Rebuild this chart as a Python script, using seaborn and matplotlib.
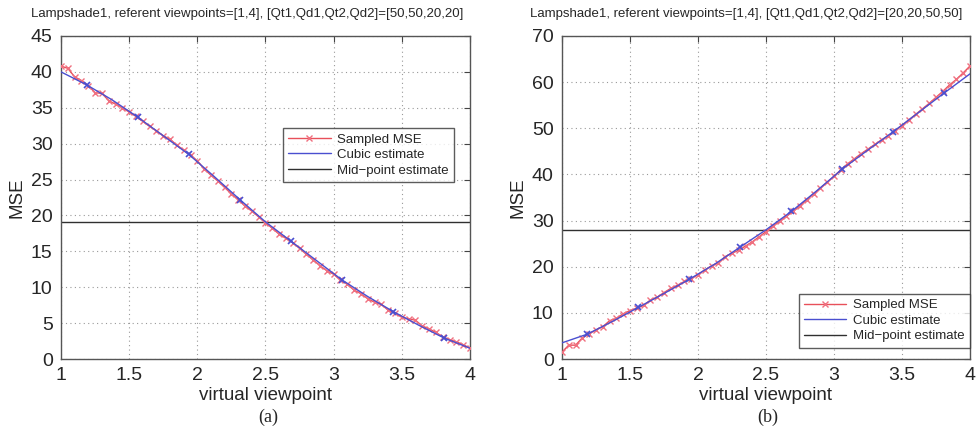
import numpy as np
import pandas as pd
import matplotlib
matplotlib.use("Agg")
import matplotlib.pyplot as plt
import seaborn as sns

# ---------------- data ----------------
sample_x = [round(1.0 + 0.05 * i, 2) for i in range(61)]
sampled_a = [40.8, 40.5, 39.3, 38.8, 38.1, 37.1, 37.0, 36.0, 35.5, 35.0,
             34.4, 33.8, 33.1, 32.4, 31.8, 31.1, 30.6, 29.8, 29.1, 28.4,
             27.6, 26.5, 25.6, 24.8, 23.9, 23.0, 22.2, 21.3, 20.6, 19.8,
             19.0, 18.2, 17.4, 16.8, 16.2, 15.4, 14.6, 13.8, 13.0, 12.3,
             11.8, 11.0, 10.4, 9.6, 9.1, 8.4, 7.9, 7.6, 6.8, 6.4,
             5.8, 5.6, 5.4, 4.6, 4.2, 3.7, 3.1, 2.7, 2.4, 2.0, 1.5]
sampled_b = [1.5, 3.0, 3.0, 4.6, 5.5, 6.3, 7.0, 8.3, 8.8, 9.8,
             10.5, 11.0, 11.6, 12.8, 13.4, 14.4, 15.3, 16.0, 16.8, 17.4,
             18.3, 19.3, 20.2, 20.8, 22.2, 22.9, 23.6, 24.5, 25.4, 26.5,
             27.6, 28.8, 29.8, 30.9, 32.0, 33.2, 34.5, 35.8, 37.0, 38.3,
             39.6, 41.0, 42.3, 43.4, 44.5, 45.5, 46.5, 47.5, 48.4, 49.5,
             50.6, 51.8, 53.0, 54.2, 55.4, 56.7, 58.0, 59.4, 60.6, 62.0, 63.5]

cubic_x = [1.0, 1.1875, 1.375, 1.5625, 1.75, 1.9375, 2.125, 2.3125, 2.5,
           2.6875, 2.875, 3.0625, 3.25, 3.4375, 3.625, 3.8125, 4.0]
cubic_a = [40.0, 38.2, 36.1, 33.7, 31.1, 28.5, 25.4, 22.2, 19.1,
           16.4, 13.7, 11.0, 8.7, 6.6, 4.7, 2.9, 1.5]
cubic_b = [3.5, 5.4, 8.2, 11.2, 14.2, 17.3, 20.6, 24.3, 28.0,
           32.0, 36.5, 41.2, 45.3, 49.3, 53.5, 57.7, 61.8]

mid_a = 19.1
mid_b = 28.0

titles = ["Lampshade1, referent viewpoints=[1,4], [Qt1,Qd1,Qt2,Qd2]=[50,50,20,20]",
          "Lampshade1, referent viewpoints=[1,4], [Qt1,Qd1,Qt2,Qd2]=[20,20,50,50]"]
captions = ["(a)", "(b)"]
xticks = [1, 1.5, 2, 2.5, 3, 3.5, 4]
xticklabels = ["1", "1.5", "2", "2.5", "3", "3.5", "4"]
yticks_a = [0, 5, 10, 15, 20, 25, 30, 35, 40, 45]
yticks_b = [0, 10, 20, 30, 40, 50, 60, 70]
legend_labels = ["Sampled MSE", "Cubic estimate", "Mid\u2212point estimate"]

# ---------------- style ----------------
sns.set_theme(style="white")
plt.rcParams['font.family'] = ['Liberation Sans', 'DejaVu Sans']

fig = plt.figure(figsize=(9.79, 4.40), dpi=100)
ax_a = fig.add_axes([61/979, 1-359/440, 409/979, 323/440])
ax_b = fig.add_axes([562/979, 1-359/440, 408/979, 323/440])

RED = "#e8505a"
BLUE = "#4a4fd0"
BLACK = "#303030"

panels = [
    (ax_a, sampled_a, cubic_a, mid_a, yticks_a, (0, 45), titles[0], captions[0],
     dict(loc="upper left", bbox_to_anchor=(0.543, 0.715))),
    (ax_b, sampled_b, cubic_b, mid_b, yticks_b, (0, 70), titles[1], captions[1],
     dict(loc="lower right", bbox_to_anchor=(1.0, 0.035))),
]

for ax, samp, cub, mid, yt, ylim, title, cap, legkw in panels:
    sns.lineplot(x=sample_x, y=samp, ax=ax, color=RED, linewidth=1.0,
                 marker="x", markersize=5, markeredgewidth=1.0,
                 markeredgecolor="#f07080", label=legend_labels[0], zorder=3)
    sns.lineplot(x=cubic_x, y=cub, ax=ax, color=BLUE, linewidth=1.0,
                 label=legend_labels[1], zorder=4)
    sns.lineplot(x=cubic_x[1::2], y=cub[1::2], ax=ax, color=BLUE, linewidth=0,
                 marker="x", markersize=5, markeredgewidth=1.2,
                 markeredgecolor=BLUE, zorder=5, legend=False)
    sns.lineplot(x=[1, 4], y=[mid, mid], ax=ax, color=BLACK, linewidth=1.0,
                 label=legend_labels[2], zorder=2)

    ax.set_xlim(1, 4)
    ax.set_ylim(*ylim)
    ax.set_xticks(xticks)
    ax.set_xticklabels(xticklabels)
    ax.set_yticks(yt)
    ax.tick_params(axis="both", labelsize=14, direction="in", length=4,
                   width=0.8, color="#444444", top=True, right=True, pad=6)
    ax.grid(True, linestyle=(0, (1, 3)), color="#999999", linewidth=0.8)
    for s in ax.spines.values():
        s.set_color("#555555")
        s.set_linewidth(1.0)
    ax.set_xlabel("virtual viewpoint", fontsize=13.5, labelpad=2)
    ax.set_ylabel("MSE", fontsize=13.5, labelpad=4)

    leg = ax.legend(fontsize=9.5, frameon=True, fancybox=False,
                    borderaxespad=0, handlelength=3.2, handletextpad=0.5,
                    labelspacing=0.25, borderpad=0.4, **legkw)
    leg.get_frame().set_edgecolor("#333333")
    leg.get_frame().set_linewidth(1.0)

fig.text(247/979, 1-14/440, titles[0], ha="center", va="center", fontsize=9.5)
fig.text(746/979, 1-14/440, titles[1], ha="center", va="center", fontsize=9.5)
fig.text(268/979, 1-417/440, captions[0], ha="center", va="center",
         fontsize=13, family=["Liberation Serif", "DejaVu Serif"])
fig.text(768/979, 1-417/440, captions[1], ha="center", va="center",
         fontsize=13, family=["Liberation Serif", "DejaVu Serif"])

fig.savefig("out.png", dpi=100)
